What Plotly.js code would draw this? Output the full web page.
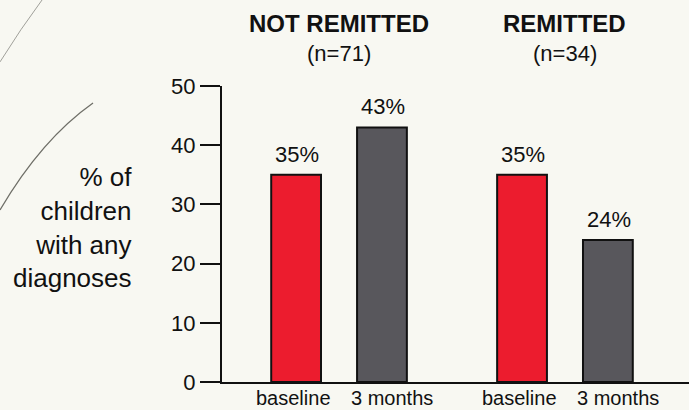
<!DOCTYPE html>
<html>
<head>
<meta charset="utf-8">
<script src="https://cdn.plot.ly/plotly-3.0.1.min.js"></script>
<style>
  html, body { margin: 0; padding: 0; background: #f7f7f0; }
  #chart { width: 689px; height: 410px; }
</style>
</head>
<body>
<div id="chart"></div>
<script>
// ---- data ----
const groups = ['NOT REMITTED', 'REMITTED'];
const groupN = [71, 34];
const timepoints = ['baseline', '3 months'];
const baselineValues = [35, 35];
const threeMonthValues = [43, 24];
const yTicks = [0, 10, 20, 30, 40, 50];
const yLabel = '% of<br>children<br>with any<br>diagnoses';

// ---- style ----
const FONT = '"Liberation Sans", Arial, Helvetica, sans-serif';
const INK = '#111111';
const colors = ['#ec1c2e', '#58575c'];
const labelShift = [-3, 10];
const bargap = 0.24;
const series = [baselineValues, threeMonthValues];
const slot = (1 - bargap) / series.length;
const offsets = series.map((_, i) => -((1 - bargap) / 2) + slot * (i + 0.5));

const traces = series.map((vals, i) => ({
  type: 'bar',
  name: timepoints[i],
  x: groups,
  y: vals,
  marker: { color: colors[i], line: { color: INK, width: 2 } },
  hoverinfo: 'skip'
}));

const annotations = [];
series.forEach((vals, i) => {
  vals.forEach((v, g) => {
    // value labels above bars
    annotations.push({
      xref: 'x', yref: 'y', x: g + offsets[i], y: v,
      text: v + '%', showarrow: false, yanchor: 'bottom', yshift: 6, xshift: 1,
      font: { family: FONT, size: 22, color: INK }
    });
    // timepoint labels below the axis
    annotations.push({
      xref: 'x', yref: 'paper', x: g + offsets[i], y: 0.0683,
      text: timepoints[i], showarrow: false, yanchor: 'top', yshift: -3,
      xshift: labelShift[i],
      font: { family: FONT, size: 20, color: INK }
    });
  });
});
// group titles
groups.forEach((gname, g) => {
  annotations.push({
    xref: 'x', yref: 'paper', x: g, y: 1 - 23 / 410, yanchor: 'middle',
    text: '<b>' + gname + '</b>', showarrow: false,
    font: { family: FONT, size: 24, color: INK }
  });
  annotations.push({
    xref: 'x', yref: 'paper', x: g, y: 1 - 53 / 410, yanchor: 'middle',
    text: '(n=' + groupN[g] + ')', showarrow: false,
    font: { family: FONT, size: 22, color: INK }
  });
});
// y label
annotations.push({
  xref: 'paper', yref: 'paper', x: 134 / 689, y: 0.444,
  xanchor: 'right', yanchor: 'middle', align: 'right',
  text: yLabel, showarrow: false,
  font: { family: FONT, size: 26, color: INK }
});

const layout = {
  width: 689, height: 410,
  margin: { l: 0, r: 0, t: 0, b: 0 },
  paper_bgcolor: '#f8f8f2',
  plot_bgcolor: 'rgba(0,0,0,0)',
  barmode: 'group',
  bargap: bargap,
  bargroupgap: 0.42,
  showlegend: false,
  font: { family: FONT, color: INK },
  xaxis: {
    domain: [222 / 689, 1],
    range: [-0.518, 1.549],
    showticklabels: false,
    ticks: '',
    showgrid: false, zeroline: false,
    showline: true, linecolor: INK, linewidth: 2,
    fixedrange: true
  },
  yaxis: {
    domain: [0.0683, 0.7902],
    range: [0, 50],
    tickvals: yTicks,
    ticks: 'outside', ticklen: 20, tickwidth: 2, tickcolor: INK,
    tickfont: { family: FONT, size: 22, color: INK },
    showgrid: false, zeroline: false,
    showline: true, linecolor: INK, linewidth: 2,
    fixedrange: true
  },
  annotations: annotations,
  shapes: [
    { type: 'path', xref: 'paper', yref: 'paper', layer: 'below',
      path: 'M 0,0.849 Q 0.03,0.93 0.061,1',
      line: { color: '#a0a09a', width: 1 } },
    { type: 'path', xref: 'paper', yref: 'paper', layer: 'below',
      path: 'M 0,0.488 Q 0.06,0.66 0.135,0.749',
      line: { color: '#6f6f68', width: 1.3 } }
  ]
};

Plotly.newPlot('chart', traces, layout, { displayModeBar: false, staticPlot: true });
</script>
</body>
</html>
